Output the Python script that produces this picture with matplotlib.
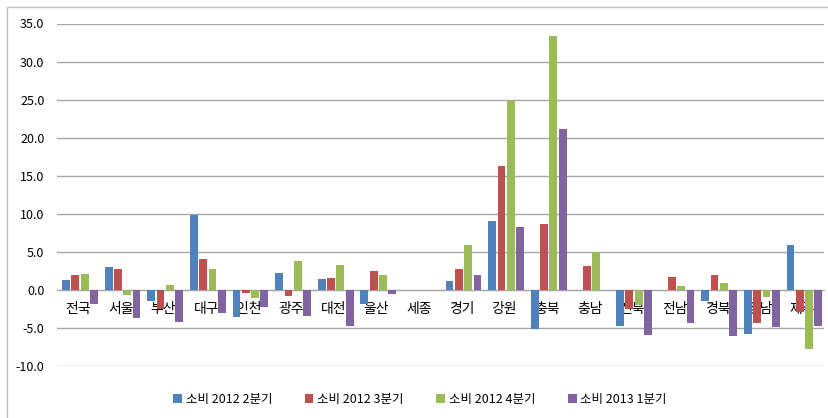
import numpy as np
import matplotlib
matplotlib.use('Agg')
import matplotlib.pyplot as plt
from matplotlib.patches import Rectangle

plt.rcParams['font.family'] = ['Noto Sans CJK KR', 'DejaVu Sans']

regions = ['전국', '서울', '부산', '대구', '인천', '광주', '대전', '울산', '세종',
           '경기', '강원', '충북', '충남', '전북', '전남', '경북', '경남', '제주']
series_names = ['소비 2012 2분기', '소비 2012 3분기', '소비 2012 4분기', '소비 2013 1분기']
q2_2012 = [1.3, 3.0, -1.5, 9.8, -3.5, 2.2, 1.4, -1.8, 0, 1.2, 9.0, -5.2, 0, -4.7, 0, -1.5, -5.8, 5.9]
q3_2012 = [2.0, 2.7, -2.5, 4.0, -0.4, -0.8, 1.5, 2.5, 0, 2.8, 16.3, 8.7, 3.1, -2.5, 1.7, 2.0, -4.3, -2.9]
q4_2012 = [2.1, -0.7, 0.7, 2.8, -1.1, 3.8, 3.3, 2.0, 0, 5.9, 25.0, 33.3, 5.0, -2.0, 0.5, 0.9, -0.9, -7.8]
q1_2013 = [-1.9, -3.7, -4.2, -3.1, -2.2, -3.4, -4.7, -0.6, 0, 1.9, 8.2, 21.2, 0, -5.9, -4.3, -6.1, -4.9, -4.7]
colors = ['#4F81BD', '#C0504D', '#9BBB59', '#8064A2']

fig = plt.figure(figsize=(8.29, 4.18), dpi=100)
ax = fig.add_axes([57 / 829, 1 - 366 / 418, 767 / 829, 342.5 / 418])

x = np.arange(len(regions))
pitch = 0.218
for i, (vals, c, name) in enumerate(zip([q2_2012, q3_2012, q4_2012, q1_2013], colors, series_names)):
    ax.bar(x + (i - 1.5) * pitch + 0.04, vals, width=pitch * 0.84, color=c, label=name, zorder=2)

ax.set_xlim(-0.5, len(regions) - 0.5)
ax.set_ylim(-10, 35)
ax.set_yticks(np.arange(-10, 36, 5))
ax.set_yticklabels([f'{v:.1f}' for v in np.arange(-10, 36, 5)])
ax.yaxis.grid(True, color='#a6a6a6', linewidth=1.0, zorder=0)
ax.set_axisbelow(True)
for s in ['top', 'right', 'left']:
    ax.spines[s].set_visible(False)
ax.spines['bottom'].set_position(('data', 0))
ax.spines['bottom'].set_color('#a6a6a6')
ax.spines['bottom'].set_zorder(1)
ax.set_xticks(x)
ax.set_xticklabels(regions)
ax.tick_params(axis='x', length=0, pad=9, labelsize=10)
ax.tick_params(axis='y', length=0, pad=9, labelsize=9)

fig.legend(loc='center', bbox_to_anchor=(420 / 829, 1 - 399 / 418), ncol=4, frameon=False,
           fontsize=9, handlelength=0.7, handleheight=0.7, handletextpad=0.3, columnspacing=2.6)

# chart area border (top and left visible)
fig.patches.append(Rectangle((7 / 829, -0.05), 1.1, 1 - 7 / 418 + 0.05, transform=fig.transFigure,
                             fill=False, edgecolor='#bfbfbf', linewidth=1.0))

fig.savefig('out.png', dpi=100)
